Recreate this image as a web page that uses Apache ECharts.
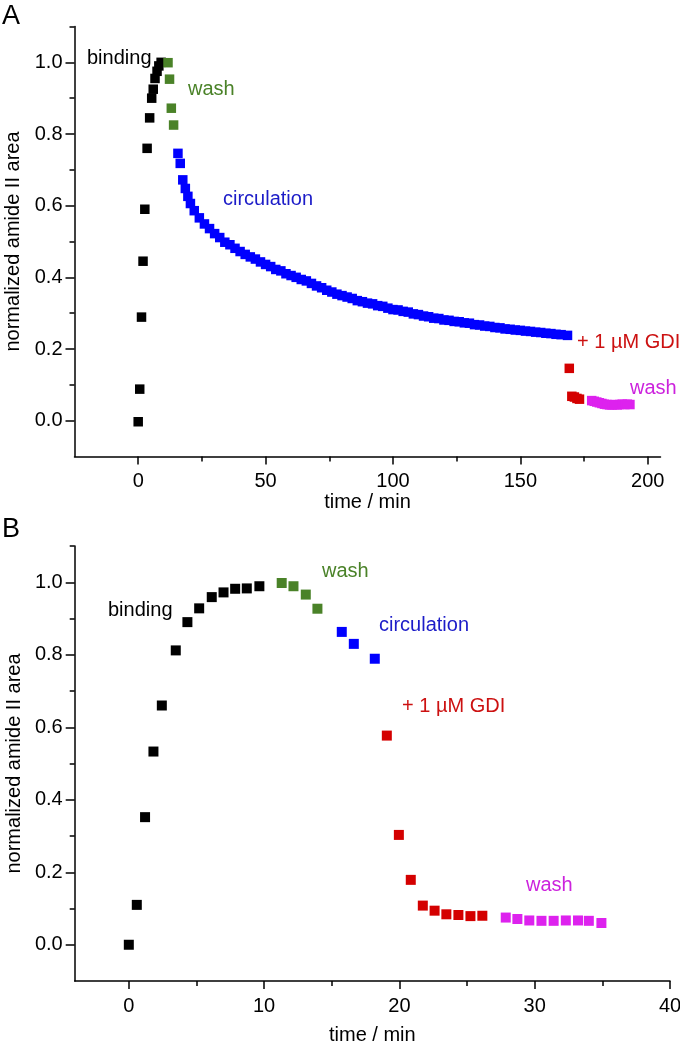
<!DOCTYPE html>
<html>
<head>
<meta charset="utf-8">
<script src="https://cdn.jsdelivr.net/npm/echarts@6/dist/echarts.min.js"></script>
<style>
html,body{margin:0;padding:0;background:#fff;}
#chart{width:680px;height:1050px;}
</style>
</head>
<body>
<div id="chart"></div>
<script>
// ---------- Panel A data ----------
const tA_bind = [0, 0.6, 1.3, 1.9, 2.6, 3.5, 4.5, 5.3, 5.9, 6.6, 7.4, 8.1, 9.0];
const vA_bind = [-0.003, 0.088, 0.289, 0.445, 0.59, 0.76, 0.845, 0.90, 0.925, 0.955, 0.975, 0.99, 1.0];
const tA_wash1 = [11.7, 12.3, 13.0, 13.9];
const vA_wash1 = [0.999, 0.953, 0.872, 0.825];
const tA_circ = [15.6, 16.5, 17.5, 18.5, 19.5, 20.5, 22, 24, 26, 28, 30, 32, 34, 36, 38, 40, 42, 44, 46, 48, 50,
  52, 54, 56, 58, 60, 62, 64, 66, 68, 70, 72, 74, 76, 78, 80, 82, 84, 86, 88, 90, 92, 94, 96, 98, 100,
  102, 104, 106, 108, 110, 112, 114, 116, 118, 120, 122, 124, 126, 128, 130, 132, 134, 136, 138, 140,
  142, 144, 146, 148, 150, 152, 154, 156, 158, 160, 162, 164, 166, 168.5];
const vA_circ = [0.746, 0.718, 0.672, 0.648, 0.626, 0.606, 0.586, 0.566, 0.549, 0.536, 0.522, 0.511, 0.498, 0.491, 0.481, 0.472, 0.464, 0.457, 0.451, 0.443, 0.436,
  0.430, 0.422, 0.418, 0.410, 0.405, 0.400, 0.394, 0.390, 0.383, 0.376, 0.371, 0.364, 0.359, 0.353, 0.349, 0.345, 0.341, 0.335, 0.332, 0.328, 0.326, 0.321, 0.319, 0.314, 0.310,
  0.309, 0.305, 0.303, 0.298, 0.296, 0.292, 0.290, 0.286, 0.285, 0.281, 0.280, 0.277, 0.276, 0.273, 0.272, 0.268, 0.267, 0.264, 0.263, 0.260,
  0.259, 0.256, 0.255, 0.253, 0.252, 0.250, 0.249, 0.247, 0.246, 0.244, 0.243, 0.241, 0.240, 0.238];
const tA_gdi = [169.2, 170.2, 171.2, 172.2, 173.2];
const vA_gdi = [0.146, 0.068, 0.066, 0.062, 0.060];
const tA_wash2 = [178, 179, 180, 181, 182, 183, 184, 185, 186, 187, 188, 189, 190, 191, 192, 193];
const vA_wash2 = [0.056, 0.054, 0.052, 0.050, 0.048, 0.046, 0.045, 0.044, 0.044, 0.045, 0.044, 0.045, 0.046, 0.045, 0.046, 0.045];

// ---------- Panel B data ----------
const tB_bind = [0, 0.59, 1.2, 1.82, 2.44, 3.47, 4.33, 5.2, 6.13, 7.0, 7.86, 8.72, 9.65];
const vB_bind = [0.0, 0.110, 0.352, 0.533, 0.660, 0.812, 0.890, 0.928, 0.959, 0.972, 0.982, 0.983, 0.989];
const tB_wash1 = [11.3, 12.17, 13.08, 13.94];
const vB_wash1 = [0.998, 0.989, 0.966, 0.927];
const tB_circ = [15.74, 16.63, 18.18];
const vB_circ = [0.863, 0.830, 0.789];
const tB_gdi = [19.07, 19.96, 20.84, 21.73, 22.6, 23.47, 24.36, 25.25, 26.13];
const vB_gdi = [0.577, 0.303, 0.179, 0.108, 0.094, 0.084, 0.082, 0.079, 0.080];
const tB_wash2 = [27.86, 28.72, 29.6, 30.5, 31.4, 32.3, 33.2, 34.0, 34.93];
const vB_wash2 = [0.075, 0.071, 0.067, 0.066, 0.066, 0.067, 0.067, 0.066, 0.060];

// ---------- Tick values ----------
const yMajor = [0, 0.2, 0.4, 0.6, 0.8, 1.0];
const yMinor = [0.1, 0.3, 0.5, 0.7, 0.9, 1.1];
const xA_major = [0, 50, 100, 150, 200];
const xA_minor = [25, 75, 125, 175];
const xB_major = [0, 10, 20, 30, 40];
const xB_minor = [5, 15, 25, 35];

const xTitle = 'time / min';
const yTitle = 'normalized amide II area';

const FONT = '"Liberation Sans", Arial, Helvetica, sans-serif';
const C = {black:'#000000', green:'#4a8228', blue:'#0000ff', red:'#d40000', magenta:'#dd22ee'};
const LBL = {black:'#000000', green:'#4a8228', blue:'#1c1cc8', red:'#cc1111', magenta:'#cc22dd'};

function zip(t, v){ return t.map((x,i)=>[x, v[i]]); }

const axisLineStyle = {color:'#000', width:1.5};

function xMain(grid, min, max, major, gap){
  return {gridIndex:grid, type:'value', min:min, max:max, position:'bottom',
    axisLine:{show:true, onZero:false, lineStyle:axisLineStyle},
    axisTick:{show:true, inside:false, length:8, customValues:major, lineStyle:{color:'#000', width:1.5}},
    axisLabel:{show:true, customValues:major, margin:15, color:'#000', fontSize:20, fontFamily:FONT},
    splitLine:{show:false}, minorTick:{show:false},
    name:xTitle, nameLocation:'middle', nameGap:gap,
    nameTextStyle:{color:'#000', fontSize:20, fontFamily:FONT}};
}
function xMinor(grid, min, max, minor){
  return {gridIndex:grid, type:'value', min:min, max:max, position:'bottom',
    axisLine:{show:false, onZero:false},
    axisTick:{show:true, inside:false, length:5, customValues:minor, lineStyle:{color:'#000', width:1.5}},
    axisLabel:{show:false}, splitLine:{show:false}};
}
function yMain(grid){
  return {gridIndex:grid, type:'value', min:-0.1, max:1.1, position:'left',
    axisLine:{show:true, onZero:false, lineStyle:axisLineStyle},
    axisTick:{show:true, inside:false, length:9, customValues:yMajor, lineStyle:{color:'#000', width:1.5}},
    axisLabel:{show:true, customValues:yMajor, margin:12, color:'#000', fontSize:20, fontFamily:FONT,
      formatter:(v)=>Number(v).toFixed(1)},
    splitLine:{show:false},
    name:yTitle, nameLocation:'middle', nameGap:50, nameRotate:90,
    nameTextStyle:{color:'#000', fontSize:20, fontFamily:FONT}};
}
function yMinorAx(grid){
  return {gridIndex:grid, type:'value', min:-0.1, max:1.1, position:'left',
    axisLine:{show:false, onZero:false},
    axisTick:{show:true, inside:false, length:5, customValues:yMinor, lineStyle:{color:'#000', width:1.5}},
    axisLabel:{show:false}, splitLine:{show:false}};
}

function sc(name, data, color, xi, yi, size){
  return {name:name, type:'scatter', data:data, symbol:'rect', symbolSize:size,
    xAxisIndex:xi, yAxisIndex:yi, itemStyle:{color:color, opacity:1}, silent:true,
    emphasis:{disabled:true}, animation:false};
}

function txt(x, y, text, color, size){
  return {type:'text', x:x, y:y, silent:true,
    style:{text:text, fill:color, fontSize:size||20, fontFamily:FONT, verticalAlign:'middle', align:'left'}};
}

const chart = echarts.init(document.getElementById('chart'), null, {renderer:'canvas'});
chart.setOption({
  animation:false,
  backgroundColor:'#ffffff',
  grid:[
    {left:74.5, top:26.5, width:586, height:430, outerBoundsMode:'none', containLabel:false},
    {left:74.7, top:546, width:595.3, height:435, outerBoundsMode:'none', containLabel:false}
  ],
  xAxis:[
    xMain(0, -25, 205, xA_major, 36),
    xMinor(0, -25, 205, xA_minor),
    xMain(1, -4, 40, xB_major, 44),
    xMinor(1, -4, 40, xB_minor)
  ],
  yAxis:[ yMain(0), yMinorAx(0), yMain(1), yMinorAx(1) ],
  series:[
    sc('A binding', zip(tA_bind, vA_bind), C.black, 0, 0, 9.5),
    sc('A wash', zip(tA_wash1, vA_wash1), C.green, 0, 0, 9.5),
    sc('A circulation', zip(tA_circ, vA_circ), C.blue, 0, 0, 9.5),
    sc('A GDI', zip(tA_gdi, vA_gdi), C.red, 0, 0, 9.5),
    sc('A wash2', zip(tA_wash2, vA_wash2), C.magenta, 0, 0, 9.5),
    sc('B binding', zip(tB_bind, vB_bind), C.black, 2, 2, 10),
    sc('B wash', zip(tB_wash1, vB_wash1), C.green, 2, 2, 10),
    sc('B circulation', zip(tB_circ, vB_circ), C.blue, 2, 2, 10),
    sc('B GDI', zip(tB_gdi, vB_gdi), C.red, 2, 2, 10),
    sc('B wash2', zip(tB_wash2, vB_wash2), C.magenta, 2, 2, 10)
  ],
  graphic:[
    txt(2, 17, 'A', '#000', 27),
    txt(2, 530, 'B', '#000', 27),
    txt(87, 58, 'binding', LBL.black),
    txt(188, 89, 'wash', LBL.green),
    txt(223, 199, 'circulation', LBL.blue),
    txt(577, 342, '+ 1 µM GDI', LBL.red),
    txt(630, 388, 'wash', LBL.magenta),
    txt(108, 610, 'binding', LBL.black),
    txt(322, 571, 'wash', LBL.green),
    txt(379, 625, 'circulation', LBL.blue),
    txt(402, 706, '+ 1 µM GDI', LBL.red),
    txt(526, 885, 'wash', LBL.magenta)
  ]
});
</script>
</body>
</html>
